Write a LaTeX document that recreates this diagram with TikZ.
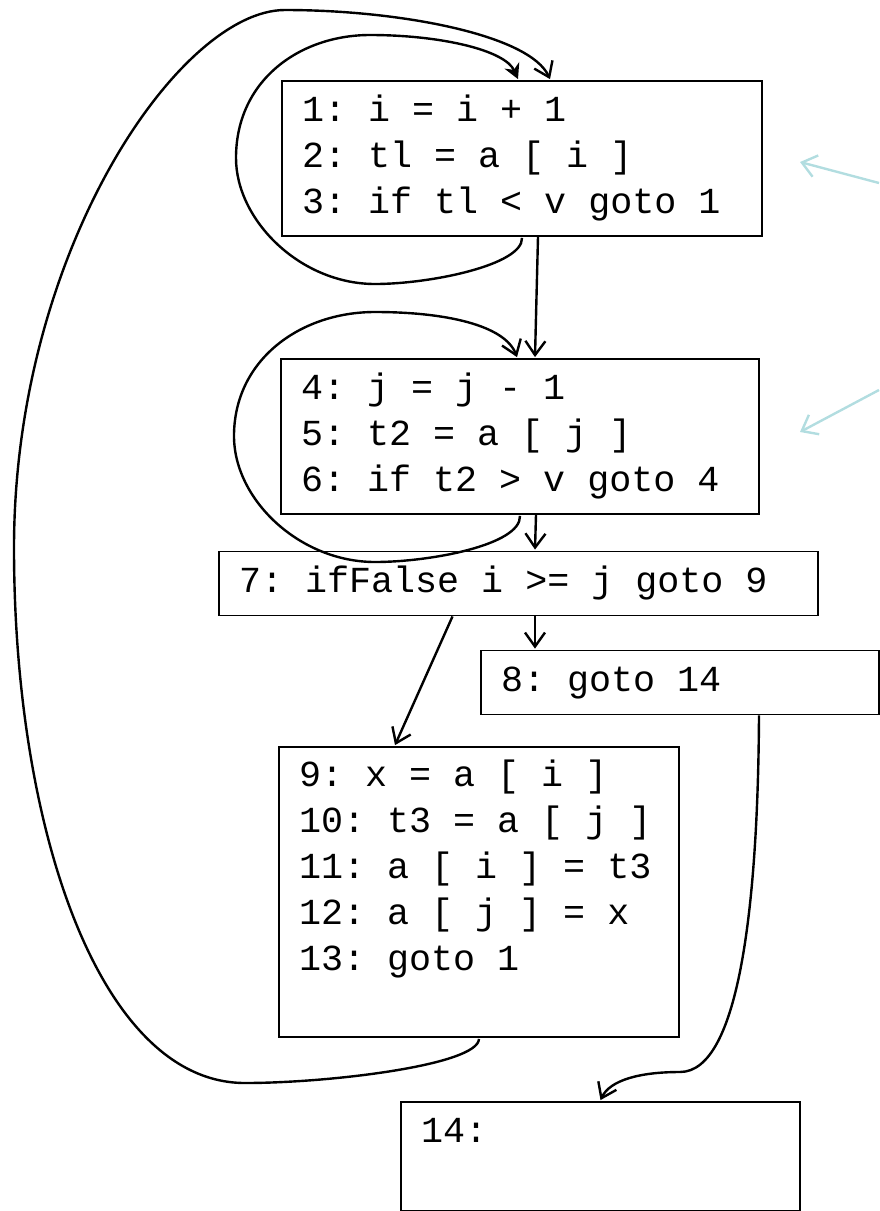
\documentclass[tikz,border=0pt]{standalone}
\usepackage{fontspec}
\setmonofont{Liberation Mono}
\usepackage{xcolor}
\usepackage{tikz}
\usetikzlibrary{arrows.meta, calc}

\definecolor{hintcyan}{RGB}{178,221,224}
\newcommand{\codefont}{\ttfamily\fontsize{36.7}{46}\selectfont}

\begin{document}
\begin{tikzpicture}[x=1pt, y=-1pt,
        blk/.style={draw, line width=1.8pt, align=left, font=\codefont,
            inner xsep=20pt, inner ysep=0pt,
            execute at begin node={\frenchspacing\spaceskip=0pt\xspaceskip=0pt\strut},
            execute at end node=\strut},
        flow/.style={line width=2.4pt, -{Straight Barb[length=14pt,width=20pt,line width=2.4pt]}},
        hint/.style={line width=2.4pt, hintcyan, -{Straight Barb[length=14pt,width=22pt,line width=2.4pt]}}]
        \useasboundingbox (0,0) rectangle (879,1211);

        % Basic blocks
        \node[blk, minimum width=480pt, minimum height=155pt, text width=440pt] (b1) at (522,158.5)
            {1: i = i + 1\\2: tl = a [ i ]\\3: if tl < v goto 1};
        \node[blk, minimum width=478pt, minimum height=155pt, text width=438pt] (b2) at (520,436.5)
            {4: j = j - 1\\5: t2 = a [ j ]\\6: if t2 > v goto 4};
        \node[blk, minimum width=599pt, minimum height=64pt, text width=559pt] (b3) at (518.5,583.5)
            {7: ifFalse i >= j goto 9};
        \node[blk, minimum width=398pt, minimum height=64pt, text width=358pt] (b4) at (680,682.5)
            {8: goto 14};
        \node[blk, minimum width=400pt, minimum height=290pt, text width=360pt] (b5) at (479,892)
            {9: x = a [ i ]\\10: t3 = a [ j ]\\11: a [ i ] = t3\\12: a [ j ] = x\\13: goto 1\\};
        \node[blk, minimum width=399pt, minimum height=109pt, text width=359pt] (b6) at (600.5,1156.5)
            {14:\\};

        % Loop on block 1
        \draw[line width=2.4pt, -{Stealth[length=15pt,width=16pt]}] ([yshift=-1pt]b1.south)
            .. controls (523,265) and (430,284) .. (375,284)
            .. controls (300,284) and (236,220) .. (236,158)
            .. controls (236,80) and (300,35) .. (370,35)
            .. controls (440,35) and (505,50) .. ([xshift=-4pt,yshift=1pt]b1.north);

        % Loop on block 2
        \draw[flow] ([yshift=-1pt]b2.south)
            .. controls (521,545) and (430,562) .. (375,562)
            .. controls (300,562) and (234,500) .. (234,436)
            .. controls (234,360) and (300,312) .. (375,312)
            .. controls (445,312) and (505,325) .. ([xshift=-3pt,yshift=1pt]b2.north);

        % Straight edges
        \draw[flow] ([xshift=16pt]b1.south) -- ([xshift=15pt,yshift=1pt]b2.north);
        \draw[flow] ([xshift=16pt]b2.south) -- ([xshift=16.5pt,yshift=1pt]b3.north);
        \draw[flow] ([xshift=16.5pt]b3.south) -- ([xshift=16.5pt,yshift=1pt]b3.south |- b4.north);
        \draw[flow] ([xshift=-66pt]b3.south) -- ([xshift=-84pt,yshift=1pt]b5.north);

        % Block 8 to block 14
        \draw[flow] ([xshift=79pt]b4.south)
            .. controls (758,900) and (740,1072) .. (680,1072)
            .. controls (640,1072) and (610,1080) .. ([yshift=1pt]b6.north);

        % Back edge from block 13 to block 1
        \draw[flow] ([yshift=-1pt]b5.south)
            .. controls (478,1065) and (330,1083) .. (245,1083)
            .. controls (100,1083) and (14,830) .. (14,548)
            .. controls (14,250) and (180,10) .. (285,10)
            .. controls (400,10) and (530,35) .. ([xshift=28pt,yshift=1pt]b1.north);

        % Hint arrows
        \coordinate (h1) at (879,183);
        \coordinate (h1e) at (800,162);
        \coordinate (h2) at (879,390);
        \coordinate (h2e) at (800,432);
        \draw[hint] (h1) -- (h1e);
        \draw[hint] (h2) -- (h2e);
    \end{tikzpicture}
\end{document}
